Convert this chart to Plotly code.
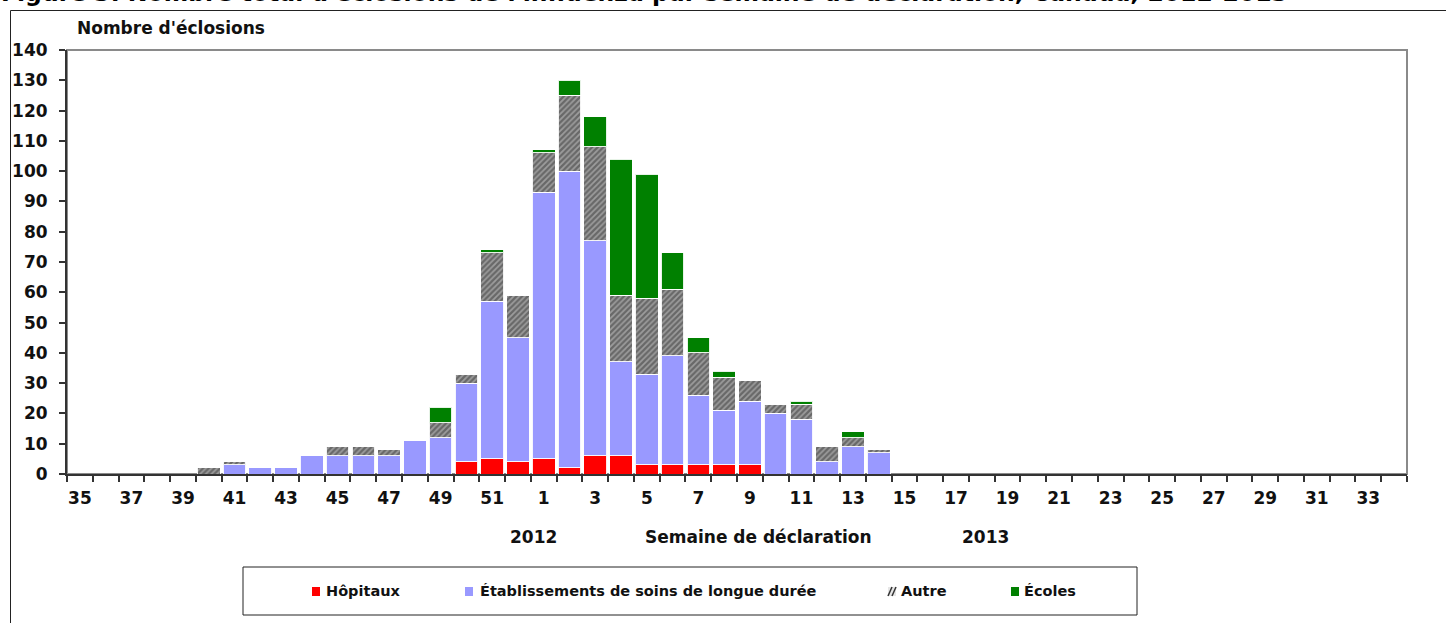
import plotly.graph_objects as go

# ---- data ----
weeks = ["35", "36", "37", "38", "39", "40", "41", "42", "43", "44", "45", "46",
         "47", "48", "49", "50", "51", "52",
         "1", "2", "3", "4", "5", "6", "7", "8", "9", "10", "11", "12", "13", "14",
         "15", "16", "17", "18", "19", "20", "21", "22", "23", "24", "25", "26",
         "27", "28", "29", "30", "31", "32", "33", "34"]

hopitaux = [0, 0, 0, 0, 0, 0, 0, 0, 0, 0, 0, 0, 0, 0, 0, 4, 5, 4,
            5, 2, 6, 6, 3, 3, 3, 3, 3, 0, 0, 0, 0, 0, 0, 0, 0, 0, 0, 0, 0, 0, 0,
            0, 0, 0, 0, 0, 0, 0, 0, 0, 0, 0]
soins_longue_duree = [0, 0, 0, 0, 0, 0, 3, 2, 2, 6, 6, 6, 6, 11, 12, 26, 52, 41,
                      88, 98, 71, 31, 30, 36, 23, 18, 21, 20, 18, 4, 9, 7, 0, 0, 0,
                      0, 0, 0, 0, 0, 0, 0, 0, 0, 0, 0, 0, 0, 0, 0, 0, 0]
autre = [0, 0, 0, 0, 0, 2, 1, 0, 0, 0, 3, 3, 2, 0, 5, 3, 16, 14,
         13, 25, 31, 22, 25, 22, 14, 11, 7, 3, 5, 5, 3, 1, 0, 0, 0,
         0, 0, 0, 0, 0, 0, 0, 0, 0, 0, 0, 0, 0, 0, 0, 0, 0]
ecoles = [0, 0, 0, 0, 0, 0, 0, 0, 0, 0, 0, 0, 0, 0, 5, 0, 1, 0,
          1, 5, 10, 45, 41, 12, 5, 2, 0, 0, 1, 0, 2, 0, 0, 0, 0,
          0, 0, 0, 0, 0, 0, 0, 0, 0, 0, 0, 0, 0, 0, 0, 0, 0]

series_names = ["Hôpitaux", "Établissements de soins de longue durée", "Autre", "Écoles"]
tick_labels = [w if i % 2 == 0 else "" for i, w in enumerate(weeks)]
y_ticks = list(range(0, 141, 10))

title_text = ("Figure 3. Nombre total d'éclosions de l'influenza par semaine de déclaration, "
              "Canada, 2012-2013")

# ---- layout geometry ----
W, H = 1446, 623
L, R, T, B = 67, 1407, 50, 474
FONT = "DejaVu Sans"
TXT = "#111111"


def px(x):
    return (x - L) / (R - L)


def py(y):
    return (B - y) / (B - T)


fig = go.Figure()
edge = dict(color="rgba(255,255,255,0.9)", width=1)
fig.add_trace(go.Bar(x=weeks, y=hopitaux, name=series_names[0],
                     marker=dict(color="#ff0000", line=edge)))
fig.add_trace(go.Bar(x=weeks, y=soins_longue_duree, name=series_names[1],
                     marker=dict(color="#9999ff", line=edge)))
fig.add_trace(go.Bar(x=weeks, y=autre, name=series_names[2],
                     marker=dict(color="#9c9c9c", line=edge,
                                 pattern=dict(shape="/", bgcolor="#9c9c9c",
                                              fgcolor="#333333", size=4, solidity=0.55))))
fig.add_trace(go.Bar(x=weeks, y=ecoles, name=series_names[3],
                     marker=dict(color="#008000", line=edge)))

shapes = []
# plot frame (gray)
shapes.append(dict(type="rect", xref="paper", yref="paper", x0=0, y0=0, x1=1, y1=1,
                   line=dict(color="#8a8a8a", width=2), layer="below"))
# outer page frame
shapes.append(dict(type="line", xref="paper", yref="paper", x0=px(10.5), x1=px(1450),
                   y0=py(10.5), y1=py(10.5), line=dict(color="#222222", width=1)))
shapes.append(dict(type="line", xref="paper", yref="paper", x0=px(10.5), x1=px(10.5),
                   y0=py(10.5), y1=py(630), line=dict(color="#222222", width=1)))
# legend box
shapes.append(dict(type="rect", xref="paper", yref="paper", x0=px(243), x1=px(1137),
                   y0=py(567), y1=py(615), line=dict(color="#222222", width=1),
                   fillcolor="white"))
# legend swatches
sw = [(312, "#ff0000"), (465, "#9999ff"), (888, None), (1011, "#008000")]
for x0, c in sw:
    if c:
        shapes.append(dict(type="rect", xref="paper", yref="paper", x0=px(x0), x1=px(x0 + 8),
                           y0=py(587), y1=py(596), fillcolor=c, line=dict(width=0)))
    else:
        shapes.append(dict(type="rect", xref="paper", yref="paper", x0=px(x0), x1=px(x0 + 8),
                           y0=py(587), y1=py(596), fillcolor="#e6e6e6", line=dict(width=0)))
        for dx in (0, 4):
            shapes.append(dict(type="line", xref="paper", yref="paper",
                               x0=px(x0 + dx), x1=px(x0 + dx + 4), y0=py(596), y1=py(587),
                               line=dict(color="#333333", width=1.5)))

ann = []
ann.append(dict(text=title_text, xref="paper", yref="paper", x=px(-1), y=py(9.5),
                xanchor="left", yanchor="bottom", showarrow=False,
                font=dict(family=FONT, size=23.5, weight="bold", color="#000")))
ann.append(dict(text="Nombre d'éclosions", xref="paper", yref="paper", x=px(75), y=py(28),
                xanchor="left", yanchor="middle", showarrow=False,
                font=dict(family=FONT, size=17, weight="bold", color=TXT)))
for txt, xc in (("2012", 533), ("Semaine de déclaration", 758), ("2013", 985)):
    ann.append(dict(text=txt, xref="paper", yref="paper", x=px(xc), y=py(537),
                    xanchor="center", yanchor="middle", showarrow=False,
                    font=dict(family=FONT, size=17, weight="bold", color=TXT)))
for txt, xl in zip(series_names, (324, 478, 899, 1022)):
    ann.append(dict(text=txt, xref="paper", yref="paper", x=px(xl), y=py(591),
                    xanchor="left", yanchor="middle", showarrow=False,
                    font=dict(family=FONT, size=14.5, weight="bold", color=TXT)))

fig.update_layout(
    width=W, height=H,
    margin=dict(l=L, r=W - R, t=T, b=H - B, pad=0),
    barmode="stack", bargap=0.12,
    paper_bgcolor="white", plot_bgcolor="white",
    showlegend=False,
    font=dict(family=FONT, color=TXT),
    shapes=shapes, annotations=ann,
    xaxis=dict(type="category", categoryorder="array", categoryarray=weeks,
               range=[-0.5, len(weeks) - 0.5],
               tickmode="array", tickvals=weeks, ticktext=tick_labels,
               tickson="boundaries", ticks="outside", ticklen=6, tickwidth=1.5,
               tickcolor="#333333", showline=True, linecolor="#333333", linewidth=2,
               showgrid=False, zeroline=False, ticklabelstandoff=8,
               tickfont=dict(family=FONT, size=17, weight="bold", color=TXT), tickangle=0),
    yaxis=dict(range=[0, 140], tickmode="array", tickvals=y_ticks,
               ticks="outside", ticklen=6, tickwidth=1.5, tickcolor="#333333",
               showline=True, linecolor="#333333", linewidth=2,
               showgrid=False, zeroline=False, ticklabelstandoff=8,
               tickfont=dict(family=FONT, size=17, weight="bold", color=TXT)),
)

fig.write_html("out.html", config={"displayModeBar": False},
               post_script="document.body.style.margin='0';document.body.style.padding='0';")
